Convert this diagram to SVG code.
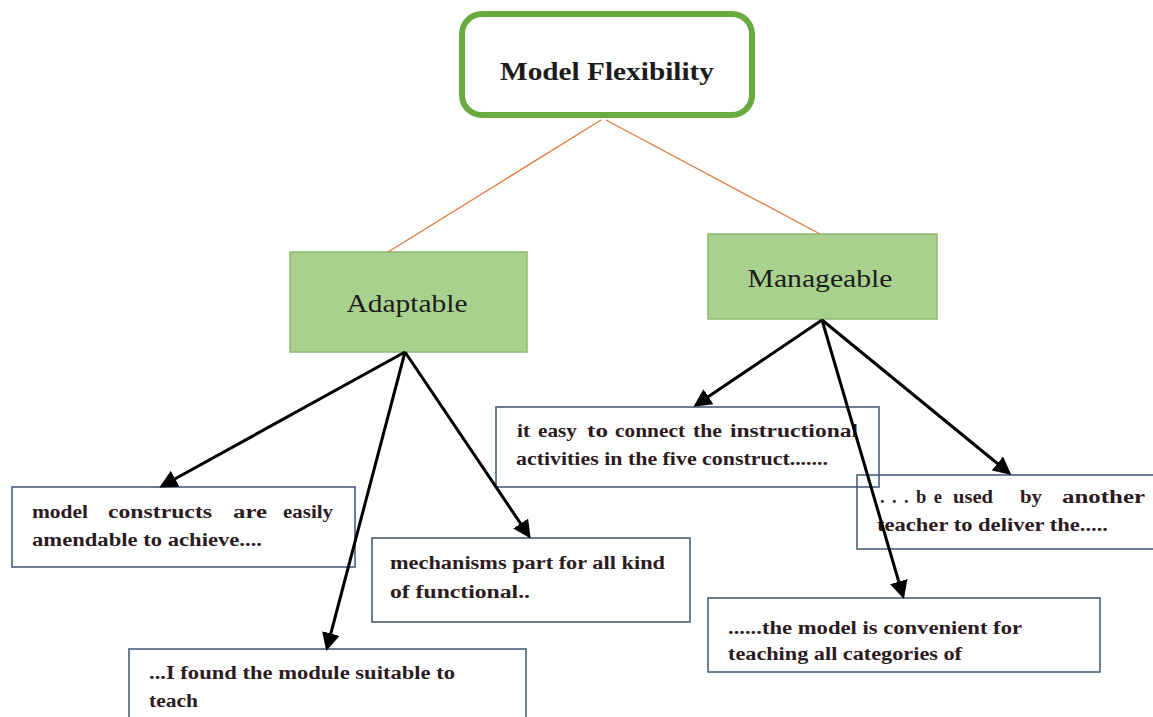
<svg xmlns="http://www.w3.org/2000/svg" width="1153" height="717" viewBox="0 0 1153 717">
<style>
.t{font-family:"Liberation Serif","Times New Roman",serif;font-weight:bold;font-size:18.5px;fill:#2b1b1e}
.cat{font-family:"Liberation Serif","Times New Roman",serif;font-size:26px;fill:#1c1c1c}
.cat-box{fill:#a9d18e;stroke:#8fb872;stroke-width:1.5}
.q{fill:none;stroke:#4a5d7c;stroke-width:1.6}
.arr{stroke:#000;stroke-width:3;fill:none;marker-end:url(#ah)}
.or{stroke:#e07a3a;stroke-width:1.3;fill:none}
</style>
<defs>
<marker id="ah" markerWidth="6" markerHeight="6" refX="5" refY="3" orient="auto" markerUnits="strokeWidth">
<path d="M0,0 L6,3 L0,6 z" fill="#000"/>
</marker>
</defs>
<rect width="1153" height="717" fill="#ffffff"/>
<g id="model-flexibility">
<rect x="462" y="14" width="290" height="101" rx="20" ry="20" fill="#ffffff" stroke="#6aab3f" stroke-width="6"/>
<text x="607" y="80" text-anchor="middle" font-family="Liberation Serif, Times New Roman, serif" font-weight="bold" font-size="25" fill="#1c1c1c" textLength="214" lengthAdjust="spacingAndGlyphs">Model Flexibility</text>
</g>
<g id="adaptable">
<rect class="cat-box" x="290" y="252" width="237" height="100"/>
<text class="cat" x="407" y="312" text-anchor="middle" textLength="121" lengthAdjust="spacingAndGlyphs">Adaptable</text>
</g>
<g id="manageable">
<rect class="cat-box" x="708" y="234" width="229" height="85"/>
<text class="cat" x="820" y="287" text-anchor="middle" textLength="145" lengthAdjust="spacingAndGlyphs">Manageable</text>
</g>
<g id="box-amendable">
<rect class="q" x="12" y="487" width="343" height="80"/>
<text class="t" x="32" y="518" textLength="56" lengthAdjust="spacingAndGlyphs">model</text>
<text class="t" x="108" y="518" textLength="104" lengthAdjust="spacingAndGlyphs">constructs</text>
<text class="t" x="233" y="518" textLength="34" lengthAdjust="spacingAndGlyphs">are</text>
<text class="t" x="283" y="518" textLength="50" lengthAdjust="spacingAndGlyphs">easily</text>
<text class="t" x="32" y="546" textLength="230" lengthAdjust="spacingAndGlyphs">amendable to achieve....</text>
</g>
<g id="box-mechanisms">
<rect class="q" x="372" y="538" width="318" height="84"/>
<text class="t" x="390" y="569" textLength="275" lengthAdjust="spacingAndGlyphs">mechanisms part for all kind</text>
<text class="t" x="390" y="598" textLength="140" lengthAdjust="spacingAndGlyphs">of functional..</text>
</g>
<g id="box-found">
<rect class="q" x="129" y="649" width="397" height="80"/>
<text class="t" x="149" y="679" textLength="306" lengthAdjust="spacingAndGlyphs">...I found the module suitable to</text>
<text class="t" x="149" y="707" textLength="49" lengthAdjust="spacingAndGlyphs">teach</text>
</g>
<g id="box-connect">
<rect class="q" x="496" y="407" width="383" height="80"/>
<text class="t" x="517" y="437" textLength="13" lengthAdjust="spacingAndGlyphs">it</text>
<text class="t" x="538" y="437" textLength="39" lengthAdjust="spacingAndGlyphs">easy</text>
<text class="t" x="587" y="437" textLength="21" lengthAdjust="spacingAndGlyphs">to</text>
<text class="t" x="615" y="437" textLength="70" lengthAdjust="spacingAndGlyphs">connect</text>
<text class="t" x="693" y="437" textLength="29" lengthAdjust="spacingAndGlyphs">the</text>
<text class="t" x="730" y="437" textLength="128" lengthAdjust="spacingAndGlyphs">instructional</text>
<text class="t" x="516" y="465" textLength="312" lengthAdjust="spacingAndGlyphs">activities in the five construct.......</text>
</g>
<g id="box-another">
<rect class="q" x="857" y="475" width="310" height="74"/>
<text class="t" x="880" y="503" textLength="62" lengthAdjust="spacing">...be</text>
<text class="t" x="953" y="503" textLength="40" lengthAdjust="spacingAndGlyphs">used</text>
<text class="t" x="1020" y="503" textLength="22" lengthAdjust="spacingAndGlyphs">by</text>
<text class="t" x="1062" y="503" textLength="83" lengthAdjust="spacingAndGlyphs">another</text>
<text class="t" x="877" y="531" textLength="231" lengthAdjust="spacingAndGlyphs">teacher to deliver the.....</text>
</g>
<g id="box-convenient">
<rect class="q" x="708" y="598" width="392" height="74"/>
<text class="t" x="728" y="634" textLength="294" lengthAdjust="spacingAndGlyphs">......the model is convenient for</text>
<text class="t" x="728" y="660" textLength="234" lengthAdjust="spacingAndGlyphs">teaching all categories of</text>
</g>
<g id="connectors">
<line class="or" x1="601" y1="120" x2="388" y2="252"/>
<line class="or" x1="606" y1="120" x2="820" y2="234"/>
<line class="arr" x1="405" y1="352" x2="162" y2="486"/>
<line class="arr" x1="405" y1="352" x2="327" y2="648"/>
<line class="arr" x1="405" y1="352" x2="529" y2="536"/>
<line class="arr" x1="822" y1="320" x2="696" y2="405"/>
<line class="arr" x1="822" y1="320" x2="903" y2="596"/>
<line class="arr" x1="822" y1="320" x2="1009" y2="473"/>
</g>
</svg>
